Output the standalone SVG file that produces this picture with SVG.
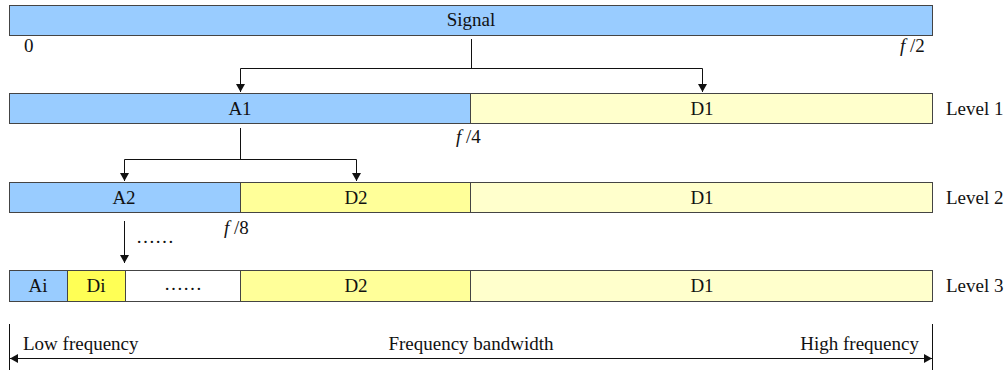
<svg xmlns="http://www.w3.org/2000/svg" width="1005" height="374" viewBox="0 0 1005 374">
<style>
text{font-family:"Liberation Serif","Times New Roman","DejaVu Serif",serif;font-size:19px;fill:#111}
.c{text-anchor:middle}
.b{stroke:#444;stroke-width:1}
.blue{fill:#99CCFF}
.y1{fill:#FFFFCC}
.y2{fill:#FFFF99}
.y3{fill:#FFFF55}
.w{fill:#FFFFFF}
.ln{stroke:#111;stroke-width:1;fill:none}
</style>
<defs>
<marker id="ah" viewBox="0 0 8 12" refX="8" refY="6" markerWidth="8" markerHeight="12" markerUnits="userSpaceOnUse" orient="auto">
<path d="M0,1.5 L8,6 L0,10.5 Z" fill="#111"/>
</marker>
</defs>
<rect width="1005" height="374" fill="#fff"/>
<g id="signal">
<rect class="b blue" x="9.5" y="5.5" width="923" height="30"/>
<text class="c" x="471" y="26">Signal</text>
<text x="24" y="52">0</text>
<text x="900" y="52"><tspan font-style="italic">f</tspan> /2</text>
</g>
<g id="level1">
<rect class="b blue" x="9.5" y="93.5" width="461" height="30"/>
<rect class="b y1" x="470.5" y="93.5" width="462" height="30"/>
<text class="c" x="240" y="115">A1</text>
<text class="c" x="702" y="115">D1</text>
<text x="946" y="115">Level 1</text>
<text x="456" y="143"><tspan font-style="italic">f</tspan> /4</text>
</g>
<g id="level2">
<rect class="b blue" x="9.5" y="182.5" width="231" height="30"/>
<rect class="b y2" x="240.5" y="182.5" width="230" height="30"/>
<rect class="b y1" x="470.5" y="182.5" width="462" height="30"/>
<text class="c" x="124" y="204">A2</text>
<text class="c" x="356" y="204">D2</text>
<text class="c" x="702" y="204">D1</text>
<text x="946" y="204">Level 2</text>
<text x="224" y="234"><tspan font-style="italic">f</tspan> /8</text>
<text x="136" y="243">……</text>
</g>
<g id="level3">
<rect class="b blue" x="9.5" y="270.5" width="58" height="31"/>
<rect class="b y3" x="67.5" y="270.5" width="58" height="31"/>
<rect class="b w" x="125.5" y="270.5" width="115" height="31"/>
<rect class="b y2" x="240.5" y="270.5" width="230" height="31"/>
<rect class="b y1" x="470.5" y="270.5" width="462" height="31"/>
<text class="c" x="38" y="292">Ai</text>
<text class="c" x="96" y="292">Di</text>
<text class="c" x="183" y="290">……</text>
<text class="c" x="356" y="292">D2</text>
<text class="c" x="702" y="292">D1</text>
<text x="946" y="292">Level 3</text>
</g>
<g id="axis">
<line class="ln" x1="9.5" y1="324" x2="9.5" y2="370"/>
<line class="ln" x1="932.5" y1="324" x2="932.5" y2="370"/>
<text x="23" y="350">Low frequency</text>
<text class="c" x="471" y="350">Frequency bandwidth</text>
<text x="919" y="350" text-anchor="end">High frequency</text>
</g>
<g id="connectors">
<path class="ln" d="M471.5,39 V68.5"/>
<path class="ln" d="M240.5,68.5 H702.5"/>
<path class="ln" d="M240.5,68.5 V92" marker-end="url(#ah)"/>
<path class="ln" d="M702.5,68.5 V92" marker-end="url(#ah)"/>
<path class="ln" d="M240.5,128 V159.5"/>
<path class="ln" d="M124.5,159.5 H356.5"/>
<path class="ln" d="M124.5,159.5 V181" marker-end="url(#ah)"/>
<path class="ln" d="M356.5,159.5 V181" marker-end="url(#ah)"/>
<path class="ln" d="M124.5,221 V263" marker-end="url(#ah)"/>
<path class="ln" d="M471,358.5 H10" marker-end="url(#ah)"/>
<path class="ln" d="M471,358.5 H932" marker-end="url(#ah)"/>
</g>
</svg>
